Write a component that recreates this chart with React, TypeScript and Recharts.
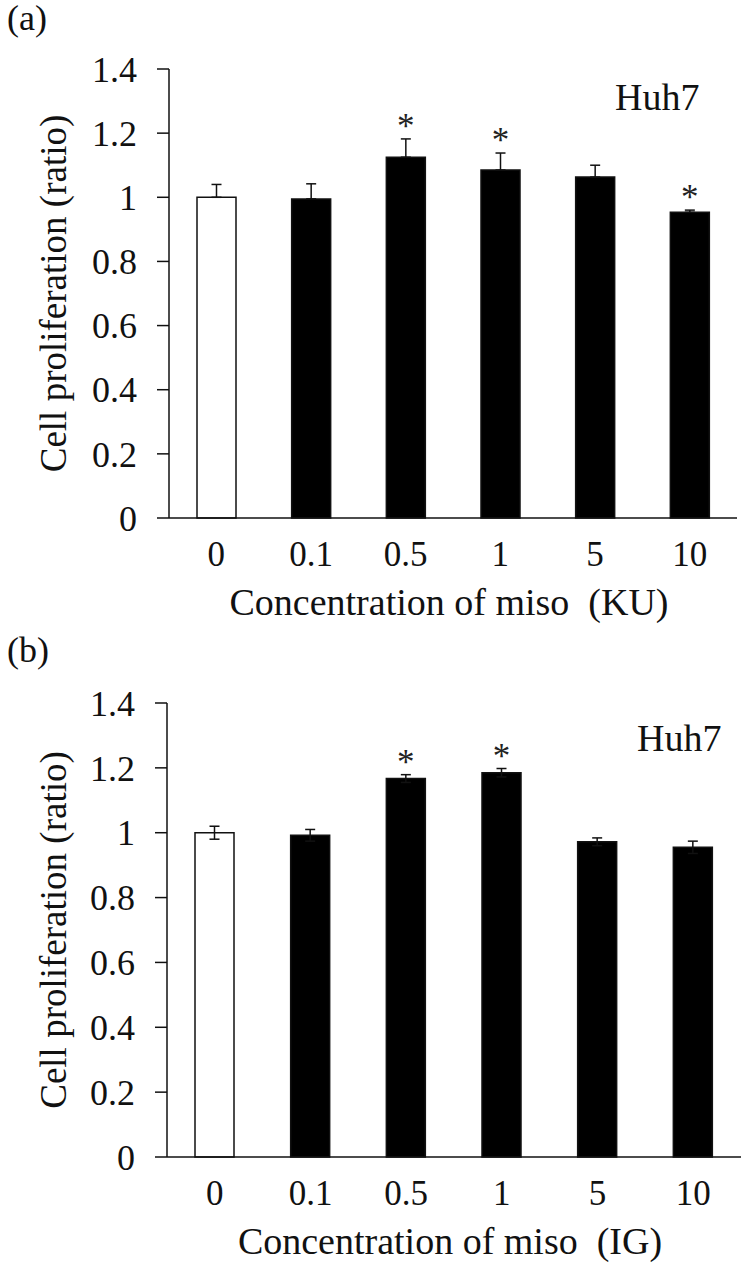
import { ComposedChart, Bar, XAxis, YAxis, ErrorBar, Cell, LabelList } from "recharts"

const concentrations = ["0", "0.1", "0.5", "1", "5", "10"]
const yTicks = [0, 0.2, 0.4, 0.6, 0.8, 1, 1.2, 1.4]

// (a) KU miso
const kuValues = [1.0, 0.995, 1.125, 1.085, 1.063, 0.953]
const kuErrors = [0.04, 0.047, 0.057, 0.053, 0.037, 0.007]
const kuSig = [false, false, true, true, false, true]

// (b) IG miso
const igValues = [1.0, 0.992, 1.167, 1.185, 0.972, 0.955]
const igErrors = [0.02, 0.018, 0.012, 0.013, 0.012, 0.019]
const igSig = [false, false, true, true, false, false]

const FONT = "'Liberation Serif', 'Times New Roman', Times, serif"
const INK = "#111"

type PanelProps = {
  tag: string
  xTitle: string
  values: number[]
  errors: number[]
  sig: boolean[]
  upOnly: boolean
  top: number
  height: number
  plotTop: number
  plotBottom: number
  plotLeft: number
  plotRight: number
  cellX: number
  cellTop: number
}

function Panel(p: PanelProps) {
  const data = concentrations.map((c, i) => ({
    conc: c,
    value: p.values[i],
    err: p.upOnly ? [0, p.errors[i]] : p.errors[i],
  }))

  const star = (props: any) => {
    const { x, y, width, height, value, index } = props
    if (!p.sig[index]) return null
    const errPx = (p.errors[index] / value) * height
    return (
      <text x={x + width / 2} y={y - errPx - 1} textAnchor="middle" fontSize={35} style={{ fontFamily: FONT }} fill="#222">
        *
      </text>
    )
  }

  return (
    <div style={{ position: "absolute", left: 0, top: p.top, width: 750, height: p.height, fontFamily: FONT }}>
      <div style={{ position: "absolute", left: 7, top: 0, fontSize: 36, lineHeight: "36px", color: INK }}>{p.tag}</div>
      <div style={{ position: "absolute", left: p.cellX, top: p.cellTop, fontSize: 38, lineHeight: "38px", color: INK }}>Huh7</div>
      <ComposedChart
        width={750}
        height={p.height}
        data={data}
        style={{ fontFamily: FONT }}
        margin={{ top: p.plotTop, right: 750 - p.plotRight, left: 0, bottom: p.height - p.plotBottom - 100 }}
      >
        <XAxis
          dataKey="conc"
          type="category"
          height={100}
          tickLine={false}
          tickMargin={17}
          axisLine={{ stroke: INK, strokeWidth: 1.5 }}
          tick={{ fontSize: 35, fill: INK, style: { fontFamily: FONT } }}
          label={{
            content: (lp: any) => {
              const vb = lp.viewBox
              return (
                <text x={vb.x + vb.width / 2 - 4} y={vb.y + 97} textAnchor="middle" fontSize={38} style={{ fontFamily: FONT }} fill={INK}>
                  {p.xTitle}
                </text>
              )
            },
          }}
        />
        <XAxis xAxisId="top" dataKey="conc" orientation="top" height={0} tick={false} tickLine={false} axisLine={{ stroke: INK, strokeWidth: 1.5 }} />
        <YAxis
          domain={[0, 1.4]}
          ticks={yTicks}
          width={p.plotLeft}
          tickSize={12}
          tickMargin={20}
          interval={0}
          axisLine={{ stroke: INK, strokeWidth: 1.5 }}
          tickLine={{ stroke: INK, strokeWidth: 1.5 }}
          tick={{ fontSize: 36, fill: INK, style: { fontFamily: FONT } }}
          label={{
            content: (lp: any) => {
              const vb = lp.viewBox
              const cx = vb.x + 53
              const cy = vb.y + vb.height / 2
              return (
                <text x={cx} y={cy} transform={`rotate(-90 ${cx} ${cy})`} textAnchor="middle" dominantBaseline="central" fontSize={37} style={{ fontFamily: FONT }} fill={INK}>
                  Cell proliferation (ratio)
                </text>
              )
            },
          }}
        />
        <YAxis yAxisId="right" orientation="right" width={0} domain={[0, 1]} tick={false} tickLine={false} axisLine={{ stroke: INK, strokeWidth: 1.5 }} />
        <Bar dataKey="value" barSize={39} stroke={INK} strokeWidth={1.5} isAnimationActive={false}>
          {data.map((_, i) => (
            <Cell key={i} fill={i === 0 ? "#fff" : "#000"} />
          ))}
          <ErrorBar dataKey="err" width={5} stroke={INK} strokeWidth={1.5} direction="y" />
          <LabelList dataKey="value" content={star} />
        </Bar>
      </ComposedChart>
    </div>
  )
}

export default function App() {
  return (
    <div style={{ position: "absolute", left: 0, top: 0, width: 750, height: 1265, background: "#fff" }}>
      <Panel
        tag="(a)"
        xTitle={"Concentration of miso\u00a0 (KU)"}
        values={kuValues}
        errors={kuErrors}
        sig={kuSig}
        upOnly={true}
        top={0}
        height={632}
        plotTop={69}
        plotBottom={518}
        plotLeft={169}
        plotRight={737}
        cellX={615}
        cellTop={78}
      />
      <Panel
        tag="(b)"
        xTitle={"Concentration of miso\u00a0 (IG)"}
        values={igValues}
        errors={igErrors}
        sig={igSig}
        upOnly={false}
        top={632}
        height={633}
        plotTop={71}
        plotBottom={525}
        plotLeft={167}
        plotRight={741}
        cellX={637}
        cellTop={87}
      />
    </div>
  )
}
